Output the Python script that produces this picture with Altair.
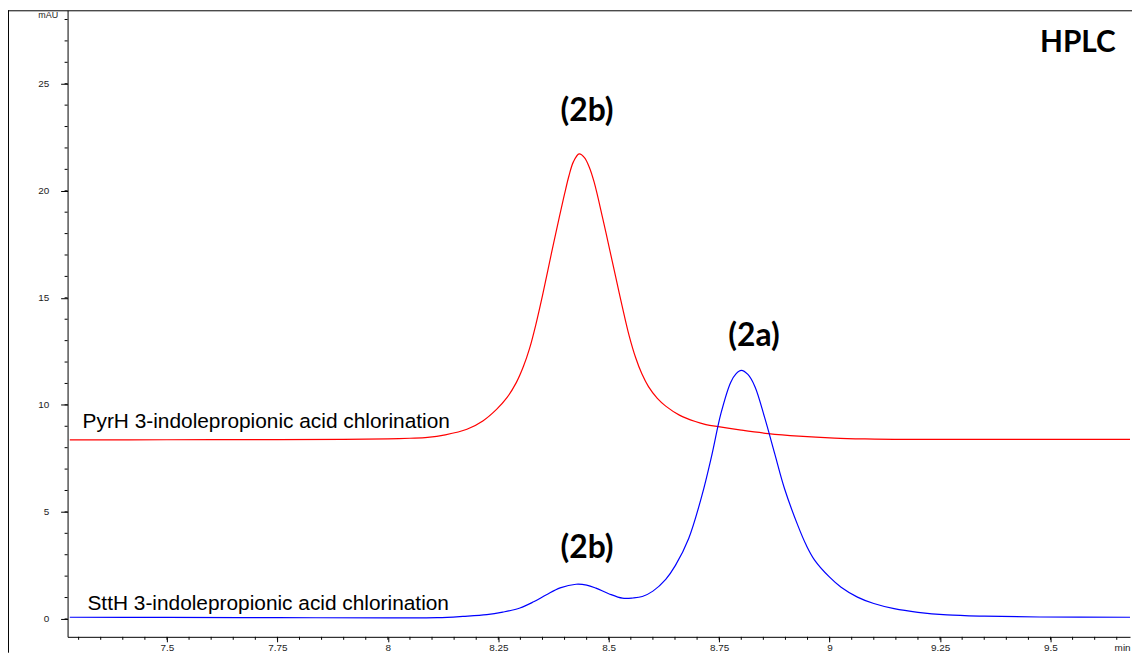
import altair as alt
import pandas as pd

# ---- data (time in min, signal in mAU) ----
red_time = [7.28, 7.5, 7.75, 7.9, 8.0, 8.05, 8.09, 8.13, 8.179, 8.215, 8.246, 8.27, 8.291,
            8.307, 8.321, 8.335, 8.35, 8.37, 8.389, 8.40, 8.41, 8.42, 8.433, 8.445, 8.456,
            8.467, 8.486, 8.50, 8.516, 8.53, 8.546, 8.561, 8.575, 8.59, 8.61, 8.629, 8.66,
            8.696, 8.72, 8.748, 8.8, 8.861, 8.93, 9.011, 9.08, 9.146, 9.3, 9.5, 9.68]
red_mau = [8.36, 8.37, 8.38, 8.39, 8.41, 8.44, 8.48, 8.60, 8.86, 9.25, 9.79, 10.35, 11.05,
           11.8, 12.65, 13.75, 15.1, 17.05, 18.85, 19.85, 20.7, 21.35, 21.72, 21.55, 21.1,
           20.4, 18.75, 17.45, 15.95, 14.65, 13.25, 12.2, 11.45, 10.85, 10.3, 9.94, 9.52,
           9.22, 9.08, 8.98, 8.82, 8.66, 8.54, 8.45, 8.41, 8.39, 8.39, 8.39, 8.39]

blue_time = [7.28, 7.5, 7.75, 8.0, 8.112, 8.17, 8.224, 8.26, 8.299, 8.33, 8.359, 8.39, 8.426,
             8.45, 8.471, 8.5, 8.531, 8.555, 8.576, 8.6, 8.629, 8.651, 8.681, 8.711, 8.733,
             8.754, 8.776, 8.788, 8.8, 8.815, 8.831, 8.853, 8.876, 8.898, 8.928, 8.947, 8.966,
             9.0, 9.026, 9.063, 9.1, 9.146, 9.2, 9.266, 9.35, 9.475, 9.68]
blue_mau = [0.08, 0.07, 0.06, 0.05, 0.06, 0.12, 0.20, 0.32, 0.51, 0.8, 1.13, 1.45, 1.62,
            1.58, 1.44, 1.18, 0.97, 0.98, 1.05, 1.3, 1.85, 2.5, 3.76, 5.77, 7.62,
            9.6, 11.05, 11.45, 11.61, 11.42, 10.85, 9.4, 7.7, 6.08, 4.37, 3.45, 2.75,
            1.95, 1.48, 1.02, 0.72, 0.48, 0.31, 0.19, 0.13, 0.09, 0.08]

series_names = ["PyrH", "SttH"]
series_colors = ["#ff0000", "#0000ff"]

label_text = ["PyrH 3-indolepropionic acid chlorination",
              "SttH 3-indolepropionic acid chlorination"]
label_time = [7.309, 7.320]
label_mau = [8.91, 0.42]

peak_text = ["(2b)", "(2a)", "(2b)"]
peak_time = [8.451, 8.829, 8.451]
peak_mau = [23.24, 12.76, 2.83]

corner_text = ["HPLC"]
corner_time = [9.562]
corner_mau = [26.48]

x_major_ticks = [7.5, 7.75, 8.0, 8.25, 8.5, 8.75, 9.0, 9.25, 9.5]
x_minor_ticks = [round(7.3 + 0.05 * i, 2) for i in range(48)]
y_major_ticks = [0, 5, 10, 15, 20, 25]
y_minor_ticks = list(range(0, 29))

x_domain = [7.275, 9.68]
y_domain = [-0.835, 28.43]

# ---- tables ----
lines = pd.concat([
    pd.DataFrame({"time": red_time, "mau": red_mau, "series": series_names[0]}),
    pd.DataFrame({"time": blue_time, "mau": blue_mau, "series": series_names[1]}),
])
labels = pd.DataFrame({"time": label_time, "mau": label_mau, "text": label_text})
peaks = pd.DataFrame({"time": peak_time, "mau": peak_mau, "text": peak_text})
corner = pd.DataFrame({"time": corner_time, "mau": corner_mau, "text": corner_text})
xminor = pd.DataFrame({"time": x_minor_ticks})
yminor = pd.DataFrame({"mau": y_minor_ticks})

PLOT_W, PLOT_H = 1070, 631

x_axis = alt.Axis(
    values=x_major_ticks, format=".4~g", grid=False, domainColor="black", tickColor="black",
    tickSize=5, labelFont="Liberation Sans", labelFontSize=10, labelColor="#222",
    labelPadding=1, labelOverlap=False, labelFlush=False, labelBound=False,
    title="min", titleFont="Liberation Sans", titleFontSize=10, titleFontWeight="normal",
    titleColor="#222", titleX=1054, titleY=6, titleAlign="left", titleBaseline="top",
    titleAnchor="start", titleAngle=0,
)
y_axis = alt.Axis(
    values=y_major_ticks, format=".4~g", grid=False, domainColor="black", tickColor="black",
    tickSize=7, labelFont="Liberation Sans", labelFontSize=10, labelColor="#222",
    labelPadding=12, labelOverlap=False, labelFlush=False, labelBound=False,
    title="mAU", titleFont="Liberation Sans", titleFontSize=9, titleFontWeight="normal",
    titleColor="#222", titleX=-10, titleY=4, titleAlign="right", titleBaseline="middle",
    titleAngle=0, titleAnchor="start",
)

x_scale = alt.Scale(domain=x_domain, nice=False, zero=False)
y_scale = alt.Scale(domain=y_domain, nice=False, zero=False)

line_layer = alt.Chart(lines).mark_line(strokeWidth=1.2, interpolate="catmull-rom").encode(
    x=alt.X("time:Q", scale=x_scale, axis=x_axis),
    y=alt.Y("mau:Q", scale=y_scale, axis=y_axis),
    color=alt.Color("series:N", scale=alt.Scale(domain=series_names, range=series_colors),
                    legend=None),
    detail="series:N",
)

# minor ticks placed through the same scales
xminor_layer = alt.Chart(xminor).mark_rule(color="black", strokeWidth=1).encode(
    x=alt.X("time:Q", scale=x_scale), y=alt.value(PLOT_H), y2=alt.value(PLOT_H + 3))
yminor_layer = alt.Chart(yminor).mark_rule(color="black", strokeWidth=1).encode(
    y=alt.Y("mau:Q", scale=y_scale), x=alt.value(-3), x2=alt.value(0))

label_layer = alt.Chart(labels).mark_text(
    align="left", baseline="alphabetic", font="Liberation Sans", fontSize=21, color="black"
).encode(x="time:Q", y="mau:Q", text="text:N")

peak_layer = alt.Chart(peaks).mark_text(
    align="center", baseline="alphabetic", font="Lato", fontWeight="bold", fontSize=32,
    color="black"
).encode(x="time:Q", y="mau:Q", text="text:N")

corner_layer = alt.Chart(corner).mark_text(
    align="center", baseline="alphabetic", font="Lato", fontWeight="bold", fontSize=30,
    color="black"
).encode(x="time:Q", y="mau:Q", text="text:N")

frame_data = pd.DataFrame({"k": [0]})
frame_left = alt.Chart(frame_data).mark_rule(color="black", strokeWidth=1).encode(
    x=alt.value(-59.5), y=alt.value(0), y2=alt.value(647))
frame_top = alt.Chart(frame_data).mark_rule(color="black", strokeWidth=1).encode(
    x=alt.value(-60), x2=alt.value(PLOT_W + 2), y=alt.value(0.5))

chart = alt.layer(
    frame_left, frame_top, line_layer, xminor_layer, yminor_layer,
    label_layer, peak_layer, corner_layer
).properties(
    width=PLOT_W, height=PLOT_H,
    padding={"left": 60, "top": 0, "right": 2, "bottom": 16},
    autosize=alt.AutoSizeParams(type="none"),
    background="white",
).configure_view(stroke=None)

chart.save("out.html", embed_options={"renderer": "svg", "actions": False})
